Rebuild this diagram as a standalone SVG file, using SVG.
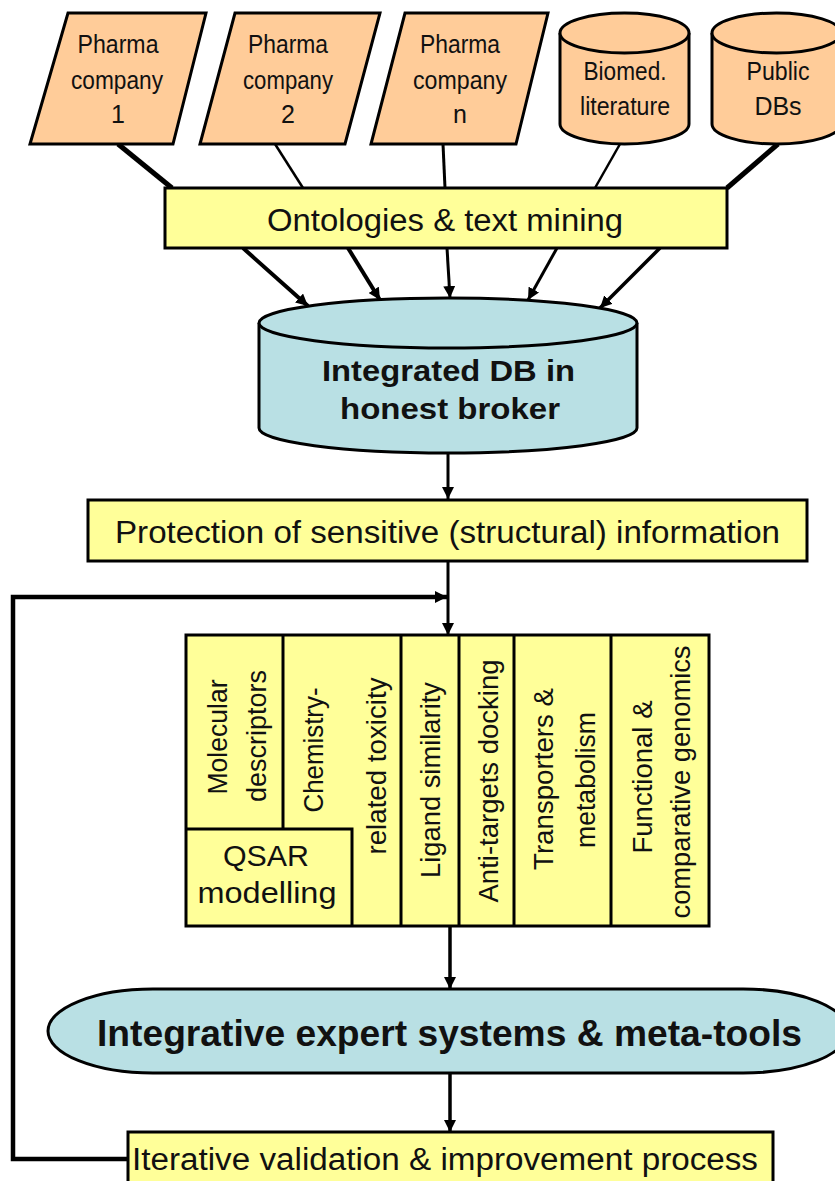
<svg xmlns="http://www.w3.org/2000/svg" width="835" height="1181" viewBox="0 0 835 1181">
<style>
  .src { fill: #FFCC99; stroke: #000; stroke-width: 3; }
  .box { fill: #FFFF99; stroke: #000; stroke-width: 3; }
  .blue { fill: #B9E0E4; stroke: #000; stroke-width: 3; }
  .div { stroke: #000; stroke-width: 3; fill: none; }
  .t { font-family: "Liberation Sans", Arial, sans-serif; fill: #111; text-anchor: middle; }
  .b { font-weight: bold; }
  .con { stroke: #000; fill: none; }
</style>
<defs>
  <marker id="ah" viewBox="0 0 12 12" refX="12" refY="6" markerWidth="12" markerHeight="12" markerUnits="userSpaceOnUse" orient="auto">
    <path d="M0,0 L12,6 L0,12 z" fill="#000"/>
  </marker>
</defs>
<rect width="835" height="1181" fill="#fff"/>

<g id="connectors">
  <line class="con" stroke-width="5" x1="118" y1="144" x2="172" y2="188"/>
  <line class="con" stroke-width="2.5" x1="275" y1="144" x2="303" y2="188"/>
  <line class="con" stroke-width="3" x1="443" y1="144" x2="445" y2="188"/>
  <line class="con" stroke-width="2.5" x1="620" y1="144" x2="595" y2="188"/>
  <line class="con" stroke-width="5" x1="778" y1="144" x2="727" y2="188"/>
  <line class="con" stroke-width="4" x1="243" y1="248" x2="308" y2="306" marker-end="url(#ah)"/>
  <line class="con" stroke-width="4" x1="348" y1="248" x2="380" y2="300" marker-end="url(#ah)"/>
  <line class="con" stroke-width="3" x1="447" y1="248" x2="450" y2="298" marker-end="url(#ah)"/>
  <line class="con" stroke-width="3" x1="557" y1="248" x2="528" y2="300" marker-end="url(#ah)"/>
  <line class="con" stroke-width="3.5" x1="660" y1="248" x2="600" y2="308" marker-end="url(#ah)"/>
  <line class="con" stroke-width="3" x1="448" y1="453" x2="448" y2="499" marker-end="url(#ah)"/>
  <line class="con" stroke-width="3" x1="448" y1="561" x2="448" y2="635" marker-end="url(#ah)"/>
  <polyline class="con" stroke-width="4.5" points="128,1159 13,1159 13,597 447,597" marker-end="url(#ah)"/>
  <line class="con" stroke-width="3.5" x1="450" y1="926" x2="450" y2="989" marker-end="url(#ah)"/>
  <line class="con" stroke-width="3.5" x1="450" y1="1073" x2="450" y2="1132" marker-end="url(#ah)"/>
</g>

<g id="pharma1">
  <polygon class="src" points="68,13 206,13 173,144 30,144"/>
  <text class="t" x="118" y="53" font-size="25" textLength="81" lengthAdjust="spacingAndGlyphs">Pharma</text>
  <text class="t" x="117" y="89" font-size="25" textLength="92" lengthAdjust="spacingAndGlyphs">company</text>
  <text class="t" x="118" y="123" font-size="25">1</text>
</g>
<g id="pharma2">
  <polygon class="src" points="235,13 380,13 345,144 200,144"/>
  <text class="t" x="288" y="53" font-size="25" textLength="80" lengthAdjust="spacingAndGlyphs">Pharma</text>
  <text class="t" x="288" y="89" font-size="25" textLength="90" lengthAdjust="spacingAndGlyphs">company</text>
  <text class="t" x="288" y="123" font-size="25">2</text>
</g>
<g id="pharman">
  <polygon class="src" points="405,13 548,13 516,144 371,144"/>
  <text class="t" x="460" y="53" font-size="25" textLength="80" lengthAdjust="spacingAndGlyphs">Pharma</text>
  <text class="t" x="460" y="89" font-size="25" textLength="94" lengthAdjust="spacingAndGlyphs">company</text>
  <text class="t" x="460" y="123" font-size="25">n</text>
</g>
<g id="biomed">
  <path class="src" d="M560,33 A64.5,20 0 0 1 689,33 L689,124 A64.5,20 0 0 1 560,124 Z"/>
  <path class="src" d="M560,33 A64.5,20 0 0 0 689,33" fill="none"/>
  <text class="t" x="625" y="80" font-size="25" textLength="83" lengthAdjust="spacingAndGlyphs">Biomed.</text>
  <text class="t" x="625" y="115" font-size="25" textLength="90" lengthAdjust="spacingAndGlyphs">literature</text>
</g>
<g id="publicdbs">
  <path class="src" d="M712,33 A64.5,20 0 0 1 841,33 L841,124 A64.5,20 0 0 1 712,124 Z"/>
  <path class="src" d="M712,33 A64.5,20 0 0 0 841,33" fill="none"/>
  <text class="t" x="778" y="80" font-size="25" textLength="63" lengthAdjust="spacingAndGlyphs">Public</text>
  <text class="t" x="778" y="115" font-size="25">DBs</text>
</g>

<g id="ontologies">
  <rect class="box" x="165" y="188" width="562" height="60"/>
  <text class="t" x="445" y="231" font-size="31" textLength="356" lengthAdjust="spacingAndGlyphs">Ontologies &amp; text mining</text>
</g>

<g id="integrated-db">
  <path class="blue" d="M259,323 A189,25 0 0 1 637,323 L637,428 A189,25 0 0 1 259,428 Z"/>
  <path class="blue" d="M259,323 A189,25 0 0 0 637,323" fill="none"/>
  <text class="t b" x="448.5" y="381" font-size="30" textLength="253" lengthAdjust="spacingAndGlyphs">Integrated DB in</text>
  <text class="t b" x="450" y="419" font-size="30" textLength="220" lengthAdjust="spacingAndGlyphs">honest broker</text>
</g>

<g id="protection">
  <rect class="box" x="88" y="500" width="719" height="61"/>
  <text class="t" x="447.5" y="543" font-size="31" textLength="665" lengthAdjust="spacingAndGlyphs">Protection of sensitive (structural) information</text>
</g>

<g id="tools">
  <rect class="box" x="186" y="635" width="523" height="291"/>
  <line class="div" x1="283" y1="635" x2="283" y2="829"/>
  <polyline class="div" points="186,829 352,829 352,926"/>
  <line class="div" x1="401" y1="635" x2="401" y2="926"/>
  <line class="div" x1="459" y1="635" x2="459" y2="926"/>
  <line class="div" x1="514" y1="635" x2="514" y2="926"/>
  <line class="div" x1="611" y1="635" x2="611" y2="926"/>
  <g font-size="27">
    <text class="t" transform="translate(227,737) rotate(-90)" textLength="115" lengthAdjust="spacingAndGlyphs">Molecular</text>
    <text class="t" transform="translate(266,736) rotate(-90)" textLength="132" lengthAdjust="spacingAndGlyphs">descriptors</text>
    <text class="t" transform="translate(323,750) rotate(-90)" textLength="125" lengthAdjust="spacingAndGlyphs">Chemistry-</text>
    <text class="t" transform="translate(386,766) rotate(-90)" textLength="177" lengthAdjust="spacingAndGlyphs">related toxicity</text>
    <text class="t" transform="translate(440,780) rotate(-90)" textLength="196" lengthAdjust="spacingAndGlyphs">Ligand similarity</text>
    <text class="t" transform="translate(498,781) rotate(-90)" textLength="243" lengthAdjust="spacingAndGlyphs">Anti-targets docking</text>
    <text class="t" transform="translate(553,779) rotate(-90)" textLength="182" lengthAdjust="spacingAndGlyphs">Transporters &amp;</text>
    <text class="t" transform="translate(595,780) rotate(-90)" textLength="136" lengthAdjust="spacingAndGlyphs">metabolism</text>
    <text class="t" transform="translate(652,777) rotate(-90)" textLength="153" lengthAdjust="spacingAndGlyphs">Functional &amp;</text>
    <text class="t" transform="translate(690,782) rotate(-90)" textLength="273" lengthAdjust="spacingAndGlyphs">comparative genomics</text>
  </g>
  <text class="t" x="266" y="866" font-size="30" textLength="86" lengthAdjust="spacingAndGlyphs">QSAR</text>
  <text class="t" x="267" y="903" font-size="30" textLength="139" lengthAdjust="spacingAndGlyphs">modelling</text>
</g>

<g id="expert-systems">
  <path class="blue" stroke-width="2.5" d="M153,989 L743,989 A105,42 0 0 1 743,1073 L153,1073 A105,42 0 0 1 153,989 Z"/>
  <text class="t b" x="449.5" y="1046" font-size="36" textLength="705" lengthAdjust="spacingAndGlyphs">Integrative expert systems &amp; meta-tools</text>
</g>

<g id="iterative">
  <rect class="box" x="128" y="1132" width="645" height="62"/>
  <text class="t" x="132" y="1170" font-size="31" text-anchor="start" style="text-anchor:start" textLength="626" lengthAdjust="spacingAndGlyphs">Iterative validation &amp; improvement process</text>
</g>
</svg>
